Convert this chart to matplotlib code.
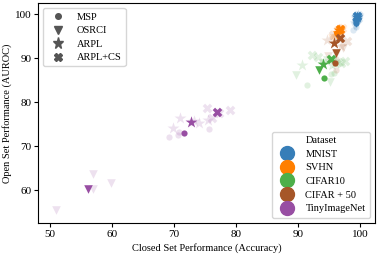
import numpy as np
import pandas as pd
import matplotlib
matplotlib.use("Agg")
import matplotlib.pyplot as plt
from matplotlib.lines import Line2D

plt.rcParams['font.family'] = ['Liberation Serif', 'DejaVu Serif']
plt.rcParams['font.size'] = 7.5

# datasets / methods
datasets = ['MNIST', 'SVHN', 'CIFAR10', 'CIFAR + 50', 'TinyImageNet']
colores = ['#377eb8', '#ff7f00', '#4daf4a', '#a65628', '#984ea3']
methods = ['MSP', 'OSRCI', 'ARPL', 'ARPL+CS']
marcadores = ['o', 'v', '*', 'X']
tamanos = [20, 38, 80, 48]

# runs individuales
run_dataset = (['MNIST'] * 17 + ['SVHN'] * 13 + ['CIFAR + 50'] * 12
               + ['CIFAR10'] * 15 + ['TinyImageNet'] * 17)
run_method = (['MSP'] * 5 + ['OSRCI'] * 4 + ['ARPL'] * 4 + ['ARPL+CS'] * 4
              + ['MSP'] * 4 + ['OSRCI'] * 3 + ['ARPL'] * 3 + ['ARPL+CS'] * 3
              + ['MSP'] * 3 + ['OSRCI'] * 3 + ['ARPL'] * 3 + ['ARPL+CS'] * 3
              + ['MSP'] * 3 + ['OSRCI'] * 4 + ['ARPL'] * 3 + ['ARPL+CS'] * 5
              + ['MSP'] * 4 + ['OSRCI'] * 4 + ['ARPL'] * 5 + ['ARPL+CS'] * 4)
run_acc = [98.9, 99.3, 99.6, 99.5, 99.2, 99.1, 99.5, 99.6, 99.3,
           99.4, 99.6, 99.5, 99.7, 99.5, 99.7, 99.4, 99.6,
           95.8, 96.5, 96.6, 96.3, 95.5, 96.4, 96.8,
           96.2, 96.9, 96.7, 96.5, 97.1, 96.8,
           96.2, 95.3, 96.2, 97.3, 94.9, 96.1,
           94.6, 97.0, 95.8, 95.6, 97.9, 96.6,
           91.5, 95.3, 95.8, 89.7, 95.2, 94.6, 94.1,
           90.6, 95.5, 95.9, 92.2, 93.3, 97.0, 97.5, 96.5,
           69.2, 70.7, 75.7, 70.8, 57.0, 57.0, 59.9, 51.0,
           70.9, 69.9, 74.0, 75.5, 73.2, 75.4, 79.1, 76.2, 77.2]
run_auroc = [96.4, 97.0, 98.6, 99.0, 98.5, 97.5, 98.4, 98.9, 97.4,
             99.2, 99.5, 99.0, 99.7, 99.6, 99.8, 99.4, 99.2,
             95.0, 96.0, 95.8, 95.6, 94.6, 95.5, 95.9,
             96.0, 96.6, 96.3, 96.4, 96.9, 96.5,
             87.3, 89.6, 89.8, 92.2, 90.5, 90.9,
             94.2, 92.8, 93.5, 95.3, 94.0, 94.5,
             83.8, 86.4, 86.6, 86.1, 84.6, 89.5, 89.0,
             88.4, 88.5, 88.9, 90.7, 90.2, 89.0, 89.4, 89.2,
             72.1, 72.5, 73.8, 73.2, 63.6, 60.2, 61.7, 55.6,
             76.4, 74.2, 75.2, 76.0, 75.7, 78.6, 78.3, 76.5, 77.6]

df = pd.DataFrame({'dataset': run_dataset, 'method': run_method,
                   'acc': run_acc, 'auroc': run_auroc})
medias = df.groupby(['dataset', 'method'], as_index=False)[['acc', 'auroc']].mean()

fig = plt.figure(figsize=(3.81, 2.6), dpi=100)
ax = fig.add_axes([0.1, 0.143, 0.884, 0.845])

# runs en transparente
for d, c in zip(datasets, colores):
    for m, mk, s in zip(methods, marcadores, tamanos):
        sub = df[(df.dataset == d) & (df.method == m)]
        ax.scatter(sub.acc, sub.auroc, marker=mk, color=c, s=s,
                   alpha=0.17, linewidths=0)

# medias encima
for d, c in zip(datasets, colores):
    for m, mk, s in zip(methods, marcadores, tamanos):
        sub = medias[(medias.dataset == d) & (medias.method == m)]
        ax.scatter(sub.acc, sub.auroc, marker=mk, color=c, s=s,
                   linewidths=0)

ax.set_xlim(48.1, 102.4)
ax.set_ylim(52.6, 102.5)
ax.set_xticks([50, 60, 70, 80, 90, 100])
ax.set_yticks([60, 70, 80, 90, 100])
ax.set_xlabel('Closed Set Performance (Accuracy)', labelpad=3)
ax.set_ylabel('Open Set Performance (AUROC)', labelpad=2)
ax.tick_params(length=3, width=0.8, labelsize=8, pad=2)

h_met = [Line2D([], [], linestyle='', marker=mk, color='#555555',
                markersize=np.sqrt(s) * 0.9) for mk, s in zip(marcadores, tamanos)]
leg1 = ax.legend(h_met, methods, loc='upper left', fontsize=7.5,
                 handletextpad=0.8, labelspacing=0.4, borderpad=0.4)
ax.add_artist(leg1)

h_dat = [Line2D([], [], linestyle='', marker='o', color=c, markersize=10)
         for c in colores]
ax.legend(h_dat, datasets, loc='lower right', title='Dataset', fontsize=7.5,
          title_fontsize=7.5, handletextpad=0.8, labelspacing=0.42,
          borderpad=0.4)

fig.savefig('out.png', dpi=100)
